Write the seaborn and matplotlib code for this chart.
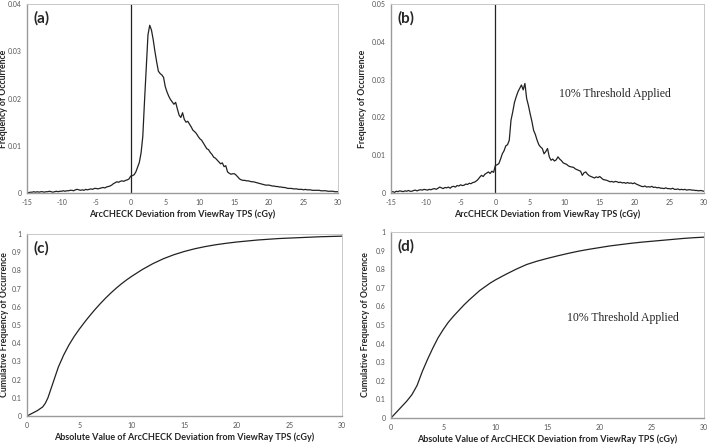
import numpy as np
import matplotlib
matplotlib.use("Agg")
import matplotlib.pyplot as plt
import pandas as pd
import seaborn as sns

# deviation bins (cGy), 0.25 cGy wide
dev_bins = np.arange(-15, 30.001, 0.25)

# frequency of occurrence, units of 1e-4 (all points)
freq_all = [
    2, 1, 2, 2,   3, 2, 3, 2,   3, 3, 2, 3,   3, 4, 3, 2,   3, 4, 3, 4,
    4, 5, 4, 5,   5, 6, 6, 5,   7, 8, 7, 6,   7, 6, 8, 7,   8, 9, 8, 10,
    10, 9, 10, 11,   12, 11, 13, 14,   15, 17, 20, 22,   24, 23, 25, 26,   25, 27, 28, 30,
    36, 37, 39, 45,   55, 65, 85, 120,   195, 265, 335, 355,   345, 325, 300, 278,
    258, 253, 250, 245,   225, 214, 205, 198,   193, 188, 192, 178,   165, 160, 170, 156,
    150, 152, 146, 140,   133, 130, 126, 120,   115, 112, 106, 100,   94, 92, 86, 82,
    76, 74, 70, 66,   62, 64, 56, 58,   45, 42, 40, 41,   41, 38, 34, 30,
    28, 27, 27, 26,   26, 25, 24, 24,   23, 22, 21, 20,   19, 18, 17, 17,
    17, 16, 15, 15,   14, 14, 13, 13,   12, 12, 11, 10,   10, 10, 9, 9,
    9, 8, 8, 8,   7, 8, 7, 7,   7, 6, 6, 6,   6, 6, 5, 5,   5, 5, 4, 4,
    4, 4, 3, 3,   3,
]

# frequency of occurrence, units of 1e-4 (10% threshold applied)
freq_thr = [
    3, 4, 2, 5,   4, 6, 5, 4,   6, 5, 7, 5,   5, 7, 8, 6,   8, 9, 8, 10,
    9, 8, 10, 9,   11, 12, 10, 13,   16, 14, 12, 15,   14, 16, 13, 17,   18, 16, 20, 19,
    22, 20, 21, 24,   23, 26, 25, 28,   29, 32, 36, 42,   47, 44, 50, 53,   56, 52, 58, 55,
    73, 75, 78, 90,   104, 112, 125, 128,   140, 193, 215, 240,   255, 268, 277, 286,
    273, 290, 250, 232,   210, 190, 166, 155,   140, 128, 122, 118,   104, 110, 118, 96,
    87, 90, 85, 88,   96, 90, 86, 80,   78, 76, 72, 70,   69, 68, 64, 62,
    60, 58, 47, 54,   56, 50, 46, 44,   42, 40, 43, 41,   44, 40, 36, 35,
    34, 32, 30, 31,   29, 31, 30, 28,   29, 27, 28, 26,   28, 26, 27, 25,
    27, 24, 22, 20,   18, 17, 19, 16,   17, 16, 18, 15,   16, 14, 15, 13,
    13, 12, 14, 12,   12, 11, 13, 10,   10, 11, 9, 10,   9, 10, 8, 9,
    9, 8, 8, 7,   7, 6, 7, 6,   5,
]

# cumulative frequency vs |deviation|
abs_all = [0, 0.5, 1, 1.5, 1.75, 2, 2.5, 3, 3.5, 4, 4.5, 5, 5.5, 6, 6.5, 7, 7.5, 8, 8.5,
           9, 9.5, 10, 11, 12, 13, 14, 15, 16, 17, 18, 19, 20, 22, 24, 26, 28, 30]
cum_all = [0, 0.015, 0.03, 0.05, 0.07, 0.1, 0.185, 0.27, 0.335, 0.39, 0.437, 0.478, 0.516,
           0.552, 0.586, 0.618, 0.648, 0.676, 0.702, 0.726, 0.748, 0.768, 0.805, 0.837, 0.864,
           0.886, 0.904, 0.919, 0.931, 0.941, 0.949, 0.956, 0.967, 0.975, 0.98, 0.985, 0.988]

abs_thr = [0, 0.5, 1, 1.5, 2, 2.5, 3, 3.5, 4, 4.5, 5, 5.5, 6, 6.5, 7, 7.5, 8, 8.5, 9, 9.5,
           10, 11, 12, 13, 14, 15, 16, 17, 18, 19, 20, 21, 22, 23, 24, 25, 26, 27, 28, 29, 30]
cum_thr = [0, 0.03, 0.06, 0.09, 0.125, 0.175, 0.25, 0.315, 0.375, 0.43, 0.475, 0.515, 0.548,
           0.578, 0.608, 0.635, 0.66, 0.685, 0.705, 0.725, 0.742, 0.772, 0.8, 0.825, 0.843,
           0.858, 0.872, 0.885, 0.897, 0.907, 0.916, 0.925, 0.932, 0.939, 0.945, 0.95,
           0.955, 0.96, 0.965, 0.969, 0.972]

sns.set_theme(style="white")
plt.rcParams['font.family'] = ['Lato', 'DejaVu Sans']
plt.rcParams['axes.unicode_minus'] = False

hist_a = pd.DataFrame({'dev': dev_bins, 'freq': np.array(freq_all) * 1e-4})
hist_b = pd.DataFrame({'dev': dev_bins, 'freq': np.array(freq_thr) * 1e-4})
cdf_c = pd.DataFrame({'absdev': abs_all, 'cum': cum_all})
cdf_d = pd.DataFrame({'absdev': abs_thr, 'cum': cum_thr})

fig = plt.figure(figsize=(7.09, 4.44), dpi=100)
ax_a = fig.add_axes([0.038, 0.565, 0.439, 0.426])
ax_b = fig.add_axes([0.5515, 0.565, 0.4415, 0.426])
ax_c = fig.add_axes([0.038, 0.063, 0.444, 0.41])
ax_d = fig.add_axes([0.5515, 0.0586, 0.4415, 0.419])

line_kw = dict(color='#222222', linewidth=0.9)
sns.lineplot(data=hist_a, x='dev', y='freq', ax=ax_a, **line_kw)
sns.lineplot(data=hist_b, x='dev', y='freq', ax=ax_b, **line_kw)
sns.lineplot(data=cdf_c, x='absdev', y='cum', ax=ax_c, **line_kw)
sns.lineplot(data=cdf_d, x='absdev', y='cum', ax=ax_d, **line_kw)

xlab_top = 'ArcCHECK Deviation from ViewRay TPS (cGy)'
xlab_bot = 'Absolute Value of ArcCHECK Deviation from ViewRay TPS (cGy)'

for ax, ymax, yticks, ylabels in [
        (ax_a, 0.04, [0, 0.01, 0.02, 0.03, 0.04], ['0', '0.01', '0.02', '0.03', '0.04']),
        (ax_b, 0.05, [0, 0.01, 0.02, 0.03, 0.04, 0.05], ['0', '0.01', '0.02', '0.03', '0.04', '0.05'])]:
    ax.set_xlim(-15, 30)
    ax.set_ylim(0, ymax)
    ax.set_xticks(range(-15, 31, 5))
    ax.set_yticks(yticks)
    ax.set_yticklabels(ylabels)
    ax.axvline(0, color='#222222', linewidth=0.9)
    ax.set_xlabel(xlab_top, fontsize=6.5, fontweight='bold', labelpad=3)
    ax.set_ylabel('Frequency of Occurrence', fontsize=6.3, fontweight='bold')

for ax in [ax_c, ax_d]:
    ax.set_xlim(0, 30)
    ax.set_ylim(0, 1)
    ax.set_xticks(range(0, 31, 5))
    ax.set_yticks(np.arange(0, 1.01, 0.1))
    ax.set_yticklabels(['0', '0.1', '0.2', '0.3', '0.4', '0.5', '0.6', '0.7', '0.8', '0.9', '1'])
    ax.set_xlabel(xlab_bot, fontsize=6.5, fontweight='bold', labelpad=3)
    ax.set_ylabel('Cumulative Frequency of Occurrence', fontsize=6.3, fontweight='bold')

ax_a.yaxis.set_label_coords(-0.061, 0.5)
ax_b.yaxis.set_label_coords(-0.078, 0.5)
ax_c.yaxis.set_label_coords(-0.058, 0.5)
ax_d.yaxis.set_label_coords(-0.066, 0.5)

for ax, tag in [(ax_a, '(a)'), (ax_b, '(b)'), (ax_c, '(c)'), (ax_d, '(d)')]:
    ax.tick_params(axis='both', labelsize=5, colors='#555555', length=2, width=0.6, pad=2)
    for side in ['top', 'right']:
        ax.spines[side].set_color('#c8c8c8')
        ax.spines[side].set_linewidth(0.7)
    for side in ['left', 'bottom']:
        ax.spines[side].set_color('#9a9a9a')
        ax.spines[side].set_linewidth(1.0)
    ax.text(0.02, 0.96, tag, transform=ax.transAxes, fontsize=11, fontweight='bold',
            ha='left', va='top')

ax_b.text(0.537, 0.524, '10% Threshold Applied', transform=ax_b.transAxes,
          family=['Liberation Serif'], fontsize=8.5, ha='left', va='center')
ax_d.text(0.562, 0.538, '10% Threshold Applied', transform=ax_d.transAxes,
          family=['Liberation Serif'], fontsize=8.5, ha='left', va='center')

fig.savefig('out.png', dpi=100)
